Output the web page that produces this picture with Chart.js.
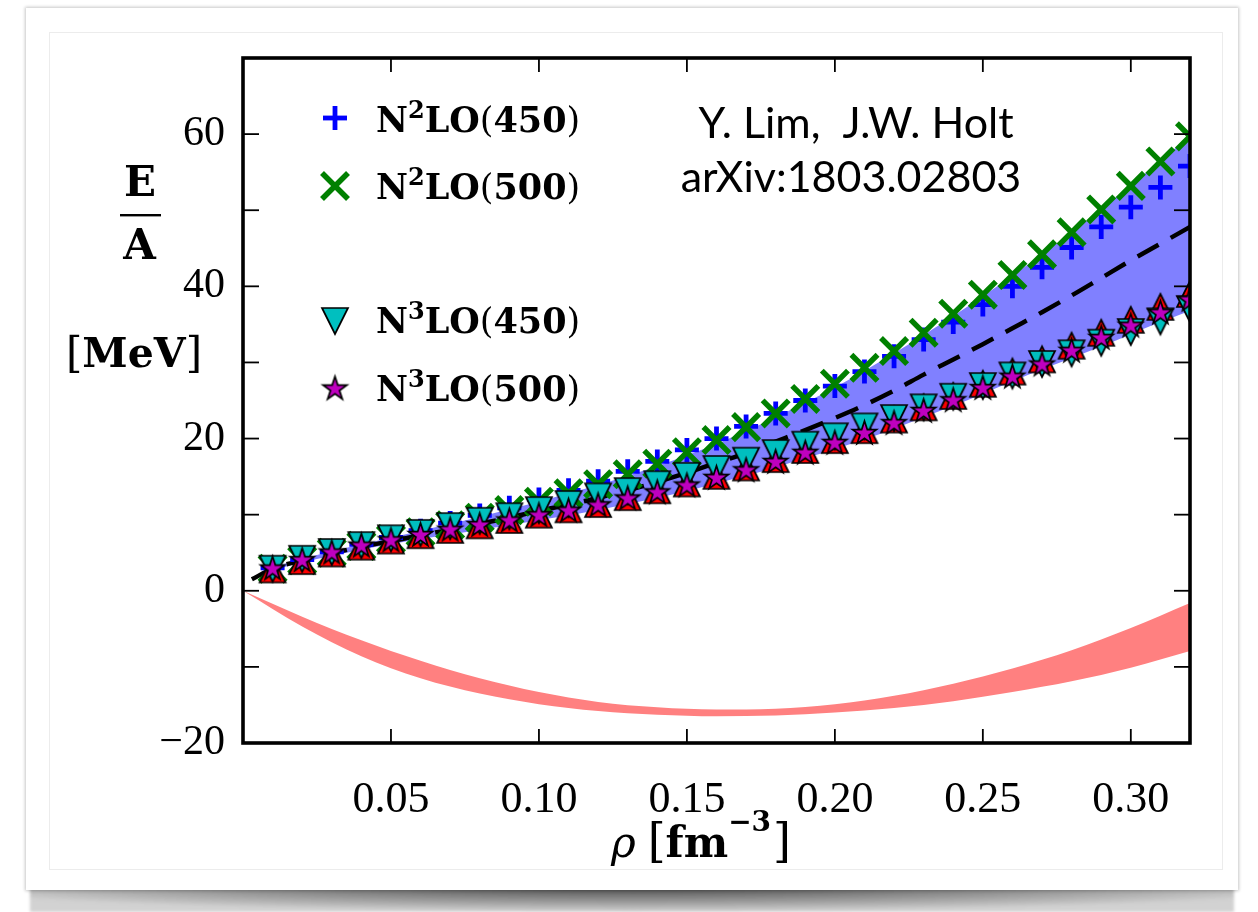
<!DOCTYPE html>
<html><head><meta charset="utf-8">
<script src="https://cdn.jsdelivr.net/npm/chart.js@4.4.1/dist/chart.umd.min.js"></script>
<style>
html,body{margin:0;padding:0;background:#fff;width:1258px;height:912px;overflow:hidden;}
#shadow{position:absolute;left:30px;top:884px;width:1204px;height:28px;
 background:radial-gradient(ellipse 60% 100% at 50% 0%, rgba(50,50,50,0.95) 0%, rgba(120,120,120,0.85) 55%, rgba(190,190,190,0.7) 100%);filter:blur(1.5px);}
#card{position:absolute;left:26px;top:8px;width:1212px;height:882px;background:#fff;box-shadow:0 0 3px 1px rgba(0,0,0,0.22);}
#inner{position:absolute;left:23px;top:24px;width:1172px;height:836px;border:1px solid #ececec;}
canvas{position:absolute;left:0;top:0;}
</style></head>
<body>
<div id="shadow"></div>
<div id="card"><div id="inner"></div></div>
<canvas id="c" width="1258" height="912" style="width:1258px;height:912px"></canvas>
<script>
// ---------------- data ----------------
const rho = [0.01,0.02,0.03,0.04,0.05,0.06,0.07,0.08,0.09,0.10,0.11,0.12,0.13,0.14,0.15,0.16,0.17,0.18,0.19,0.20,0.21,0.22,0.23,0.24,0.25,0.26,0.27,0.28,0.29,0.30,0.31,0.32];
const n2lo450 = [3.0,4.1,5.1,6.1,7.0,7.9,8.9,9.9,10.9,12.0,13.2,14.4,15.7,17.0,18.5,20.0,21.6,23.3,25.0,26.9,28.8,30.8,33.0,35.3,37.6,40.0,42.5,45.1,47.8,50.4,53.0,55.8];
const n2lo500 = [2.9,4.0,5.0,5.9,6.8,7.7,8.6,9.6,10.6,11.7,12.8,14.0,15.3,16.7,18.2,19.8,21.5,23.3,25.2,27.2,29.3,31.5,33.9,36.4,38.9,41.5,44.2,47.1,50.1,53.2,56.4,59.7];
const n3lo450 = [2.9,4.2,5.1,6.0,6.9,7.6,8.5,9.2,9.8,10.6,11.4,12.4,13.1,14.0,15.1,16.0,17.1,18.1,19.2,20.3,21.6,22.7,24.1,25.5,26.9,28.3,29.8,31.2,32.6,34.0,35.4,37.0];
const n3lo500 = [3.0,4.1,5.1,6.0,6.7,7.4,8.1,8.7,9.3,10.0,10.6,11.3,12.2,13.0,13.9,14.9,15.9,17.0,18.2,19.5,20.8,22.1,23.7,25.1,26.7,28.2,29.8,31.6,33.3,34.9,36.6,38.3];
const n3loExtra = [2.8,3.9,4.9,5.8,6.6,7.3,8.0,8.6,9.3,10.0,10.7,11.4,12.3,13.2,14.1,15.1,16.2,17.3,18.5,19.8,21.1,22.5,24.1,25.6,27.2,28.8,30.4,32.2,33.9,35.6,37.3,39.0];
const bandUpper = [3.1,4.2,5.2,6.1,7.0,7.9,8.8,9.7,10.7,11.7,12.8,13.9,15.1,16.4,17.8,19.3,21.0,22.8,24.7,26.7,28.9,31.2,33.6,36.1,38.7,41.4,44.2,47.1,50.1,53.3,56.5,59.8];
const bandLower = [2.7,3.7,4.6,5.4,6.1,6.8,7.4,8.0,8.6,9.3,9.9,10.6,11.4,12.2,13.1,14.1,15.1,16.2,17.4,18.6,19.9,21.3,22.8,24.3,25.9,27.5,29.1,30.6,32.1,33.7,35.3,36.8];
const dashRho = [0.003,0.01,0.02,0.03,0.04,0.05,0.06,0.07,0.08,0.09,0.10,0.11,0.12,0.13,0.14,0.15,0.16,0.17,0.18,0.19,0.20,0.21,0.22,0.23,0.24,0.25,0.26,0.27,0.28,0.29,0.30,0.31,0.32];
const dashE = [1.5,2.9,4.0,4.9,5.8,6.5,7.3,8.0,8.8,9.6,10.5,11.3,12.2,13.2,14.3,15.5,16.8,18.1,19.6,21.1,22.7,24.4,26.3,28.4,30.4,32.4,34.5,36.6,38.8,41.1,43.4,45.6,47.8];
const redRho = [0,0.02,0.04,0.06,0.08,0.10,0.12,0.14,0.16,0.18,0.20,0.22,0.24,0.26,0.28,0.30,0.32];
const redUpper = [0,-3.4,-6.5,-9.2,-11.5,-13.3,-14.6,-15.3,-15.6,-15.5,-14.9,-13.8,-12.2,-10.2,-7.8,-4.9,-1.6];
const redLower = [0,-4.7,-8.6,-11.5,-13.5,-14.9,-15.8,-16.3,-16.5,-16.4,-16.0,-15.4,-14.5,-13.3,-11.9,-10.1,-7.9];

const xTickVals = [0.05,0.10,0.15,0.20,0.25,0.30];
const xTickLabels = ['0.05','0.10','0.15','0.20','0.25','0.30'];
const yTickVals = [-20,-10,0,10,20,30,40,50,60,70];
const yTickLabels = ['\u221220','','0','','20','','40','','60',''];
const legendLabels = ['N\u00b2LO(450)','N\u00b2LO(500)','N\u00b3LO(450)','N\u00b3LO(500)'];
const legendOrder = ['2','2','3','3'];
const legendCutoff = ['450','500','450','500'];
const noteLines = ['Y. Lim,  J.W. Holt','arXiv:1803.02803'];

const zip = (xs, ys) => xs.map((x,i)=>({x:x, y:ys[i]}));

// ---------------- marker images ----------------
function markerTriangle(up, fill, size, lw){
  const pad = 3, W = size + 2*pad;
  const cv = document.createElement('canvas'); cv.width = W; cv.height = W;
  const g = cv.getContext('2d'); const c = W/2, h = size/2;
  g.beginPath();
  if (up){ g.moveTo(c,c-h); g.lineTo(c+h,c+h); g.lineTo(c-h,c+h); }
  else { g.moveTo(c-h,c-h); g.lineTo(c+h,c-h); g.lineTo(c,c+h); }
  g.closePath(); g.fillStyle = fill; g.fill();
  g.lineWidth = lw; g.strokeStyle = '#000'; g.lineJoin = 'miter'; g.stroke();
  return cv;
}
function markerStar(fill, R, lw){
  const pad = 4, W = Math.ceil(2*R + 2*pad);
  const cv = document.createElement('canvas'); cv.width = W; cv.height = W;
  const g = cv.getContext('2d'); const c = W/2;
  g.beginPath();
  for (let i=0;i<10;i++){
    const a = -Math.PI/2 + i*Math.PI/5; const r = (i%2)? R*0.382 : R;
    const px = c + r*Math.cos(a), py = c + 1 + r*Math.sin(a);
    if (i===0) g.moveTo(px,py); else g.lineTo(px,py);
  }
  g.closePath(); g.fillStyle = fill; g.fill();
  g.lineWidth = lw; g.strokeStyle = '#000'; g.lineJoin = 'miter'; g.stroke();
  return cv;
}
const triDown = markerTriangle(false, '#00bfbf', 26, 1.7);
const triUp = markerTriangle(true, '#ff0000', 26, 1.7);
const star = markerStar('#bf00bf', 12.5, 1.7);

// ---------------- plugins ----------------
function line(ctx,x1,y1,x2,y2){ ctx.beginPath(); ctx.moveTo(x1,y1); ctx.lineTo(x2,y2); ctx.stroke(); }
const framePlugin = { id:'frame', afterDatasetsDraw(chart){
  const {ctx, chartArea:a, scales:{x,y}} = chart;
  ctx.save(); ctx.strokeStyle = '#000'; ctx.lineWidth = 1.8;
  xTickVals.forEach(v=>{ const px = x.getPixelForValue(v); line(ctx,px,a.bottom,px,a.bottom-14); line(ctx,px,a.top,px,a.top+14); });
  yTickVals.forEach(v=>{ if (v===-20||v===70) return; const py = y.getPixelForValue(v); line(ctx,a.left,py,a.left+16,py); line(ctx,a.right,py,a.right-16,py); });
  ctx.lineWidth = 3.6; ctx.strokeRect(a.left, a.top, a.right-a.left, a.bottom-a.top);
  ctx.restore();
}};

function drawRich(ctx, segs, x, y, align){
  let total = 0;
  segs.forEach(s=>{ ctx.font = s.f; s.w = ctx.measureText(s.t).width; total += s.w + (s.gap||0); });
  let cx = align==='center' ? x - total/2 : (align==='right' ? x - total : x);
  segs.forEach(s=>{ cx += (s.gap||0); ctx.font = s.f; ctx.fillText(s.t, cx, y + (s.dy||0)); cx += s.w; });
}
const SERIF = '"DejaVu Serif"';
const textPlugin = { id:'texts', afterDraw(chart){
  const ctx = chart.ctx; ctx.save();
  ctx.fillStyle = '#000'; ctx.textAlign = 'left'; ctx.textBaseline = 'alphabetic';
  // y label
  ctx.textAlign = 'center';
  ctx.font = 'bold 42px ' + SERIF; ctx.fillText('E', 140, 196); ctx.fillText('A', 139.5, 259);
  ctx.fillRect(120, 214, 41, 2.4);
  ctx.textAlign = 'left';
  drawRich(ctx, [{t:'[', f:'42px '+SERIF},{t:'MeV', f:'bold 41px '+SERIF},{t:']', f:'42px '+SERIF}], 134, 367, 'center');
  // x label
  drawRich(ctx, [{t:'\u03c1', f:'italic 42px '+SERIF},{t:'[', f:'46px '+SERIF, gap:12},{t:'fm', f:'bold 42px '+SERIF},
    {t:'\u22123', f:'bold 28px '+SERIF, dy:-26},{t:']', f:'46px '+SERIF, gap:2}], 701, 857, 'center');
  // note
  ctx.textAlign = 'center'; ctx.font = '43px Lato';
  ctx.fillText(noteLines[0], 856, 138); ctx.fillText(noteLines[1], 851, 192);
  ctx.textAlign = 'left';
  // legend
  const rows = [118, 186, 321, 388], base = [132, 199, 333, 401];
  const mx = 335;
  ctx.strokeStyle = '#0000ff'; ctx.lineWidth = 4.8;
  line(ctx, mx-12, rows[0], mx+12, rows[0]); line(ctx, mx, rows[0]-12, mx, rows[0]+12);
  ctx.strokeStyle = '#008000'; ctx.lineWidth = 5.5; const d = 13;
  line(ctx, mx-d, rows[1]-d, mx+d, rows[1]+d); line(ctx, mx-d, rows[1]+d, mx+d, rows[1]-d);
  ctx.drawImage(triDown, mx - triDown.width/2, rows[2] - triDown.height/2);
  ctx.drawImage(star, mx - star.width/2, rows[3] - star.height/2);
  for (let i=0;i<4;i++){
    drawRich(ctx, [{t:'N', f:'bold 35px '+SERIF},{t:legendOrder[i], f:'bold 24px '+SERIF, dy:-14},{t:'LO', f:'bold 35px '+SERIF},
      {t:'(', f:'35px '+SERIF},{t:legendCutoff[i], f:'bold 35px '+SERIF},{t:')', f:'35px '+SERIF}], 376, base[i], 'left');
  }
  ctx.restore();
}};

// ---------------- chart ----------------
const hidden = 'rgba(0,0,0,0)';
const datasets = [
  {label:'band N2LO-N3LO', data:zip(rho,bandUpper), showLine:true, fill:'+1', backgroundColor:'#8080ff', borderColor:hidden, borderWidth:0, pointRadius:0, cubicInterpolationMode:'monotone', order:20},
  {label:'band lower', data:zip(rho,bandLower), showLine:true, fill:false, borderColor:hidden, borderWidth:0, pointRadius:0, cubicInterpolationMode:'monotone', order:19},
  {label:'red band', data:zip(redRho,redUpper), showLine:true, fill:'+1', backgroundColor:'#ff8080', borderColor:hidden, borderWidth:0, pointRadius:0, cubicInterpolationMode:'monotone', order:18},
  {label:'red band lower', data:zip(redRho,redLower), showLine:true, fill:false, borderColor:hidden, borderWidth:0, pointRadius:0, cubicInterpolationMode:'monotone', order:17},
  {label:'dashed', data:zip(dashRho,dashE), showLine:true, fill:false, borderColor:'#000', borderWidth:4.5, borderDash:[24,14], pointRadius:0, cubicInterpolationMode:'monotone', order:16},
  {label:legendLabels[0], data:zip(rho,n2lo450), showLine:false, pointStyle:'cross', pointRadius:12, pointBorderWidth:4.8, borderColor:'#0000ff', pointBorderColor:'#0000ff', backgroundColor:'#0000ff', order:9},
  {label:legendLabels[1], data:zip(rho,n2lo500), showLine:false, pointStyle:'crossRot', pointRadius:18.5, pointBorderWidth:5.5, borderColor:'#008000', pointBorderColor:'#008000', backgroundColor:'#008000', order:8},
  {label:'N3LO extra', data:zip(rho,n3loExtra), showLine:false, pointStyle:triUp, pointRadius:13, order:7},
  {label:legendLabels[2], data:zip(rho,n3lo450), showLine:false, pointStyle:triDown, pointRadius:13, order:6},
  {label:legendLabels[3], data:zip(rho,n3lo500), showLine:false, pointStyle:star, pointRadius:13, order:5}
];

new Chart(document.getElementById('c'), {
  type:'scatter',
  data:{datasets},
  plugins:[framePlugin, textPlugin],
  options:{
    responsive:false, animation:false, events:[],
    layout:{padding:{top:58, right:68, left:0, bottom:0}},
    plugins:{legend:{display:false}, tooltip:{enabled:false}},
    scales:{
      x:{type:'linear', min:0, max:0.32,
        afterBuildTicks:(s)=>{ s.ticks = xTickVals.map(v=>({value:v})); },
        afterFit:(s)=>{ s.height = 169; },
        grid:{display:false, drawTicks:false}, border:{display:false},
        ticks:{color:'#000', padding:31, maxRotation:0, autoSkip:false, font:{family:'"Liberation Serif"', size:44},
          callback:(v)=>{ const i = xTickVals.indexOf(v); return i>=0 ? xTickLabels[i] : ''; }}
      },
      y:{type:'linear', min:-20, max:70,
        afterBuildTicks:(s)=>{ s.ticks = yTickVals.map(v=>({value:v})); },
        afterFit:(s)=>{ s.width = 243; },
        grid:{display:false, drawTicks:false}, border:{display:false},
        ticks:{color:'#000', padding:18, autoSkip:false, font:{family:'"Liberation Serif"', size:42},
          callback:(v)=>{ const i = yTickVals.indexOf(v); return i>=0 ? yTickLabels[i] : ''; }}
      }
    }
  }
});
</script>
</body></html>
